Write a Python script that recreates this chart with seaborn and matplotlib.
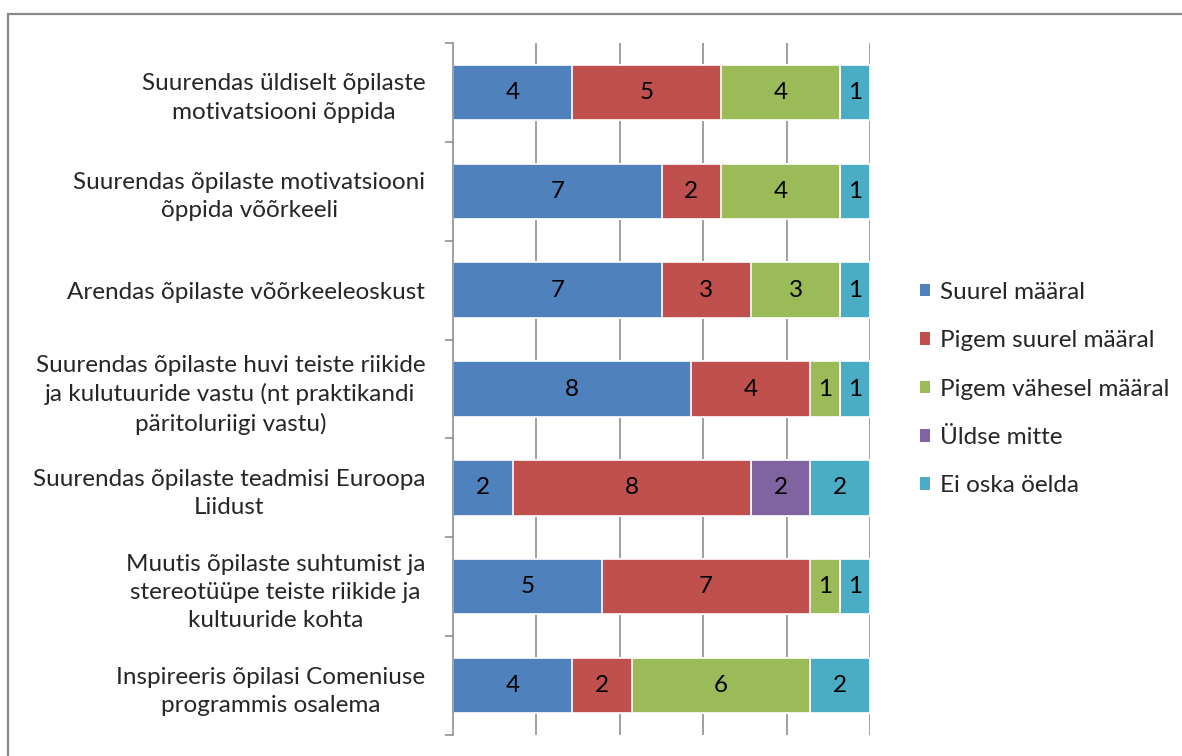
import matplotlib
matplotlib.use("Agg")
import matplotlib.pyplot as plt
import seaborn as sns
import pandas as pd
import numpy as np
from matplotlib.patches import Patch, Rectangle

categories = [
    "Suurendas üldiselt õpilaste\nmotivatsiooni õppida",
    "Suurendas õpilaste motivatsiooni\nõppida võõrkeeli",
    "Arendas õpilaste võõrkeeleoskust",
    "Suurendas õpilaste huvi teiste riikide\nja kulutuuride vastu (nt praktikandi\npäritoluriigi vastu)",
    "Suurendas õpilaste teadmisi Euroopa\nLiidust",
    "Muutis õpilaste suhtumist ja\nstereotüüpe teiste riikide ja\nkultuuride kohta",
    "Inspireeris õpilasi Comeniuse\nprogrammis osalema",
]
series_names = ["Suurel määral", "Pigem suurel määral", "Pigem vähesel määral",
                "Üldse mitte", "Ei oska öelda"]
suurel = [4, 7, 7, 8, 2, 5, 4]
pigem_suurel = [5, 2, 3, 4, 8, 7, 2]
pigem_vahesel = [4, 4, 3, 1, 0, 1, 6]
uldse_mitte = [0, 0, 0, 0, 2, 0, 0]
ei_oska = [1, 1, 1, 1, 2, 1, 2]
colors = ["#4F81BD", "#C0504D", "#9BBB59", "#8064A2", "#4BACC6"]

series = [suurel, pigem_suurel, pigem_vahesel, uldse_mitte, ei_oska]
vals = np.array(series, dtype=float)
cum = np.cumsum(vals, axis=0)

sns.set_theme(style="white")
FONT = ["Lato", "DejaVu Sans"]
plt.rcParams["font.family"] = FONT
FS = 17.5

fig = plt.figure(figsize=(11.82, 7.56), dpi=100)
ax = fig.add_axes([453 / 1182, 1 - 735 / 756, (870 - 453) / 1182, (735 - 43) / 756])

total = cum[-1].max()
ax.set_xlim(0, total)
gx = np.linspace(0, total, 6)
for x in gx[1:]:
    ax.axvline(x, color="#868686", lw=1.1, zorder=0)

for i in range(len(series) - 1, -1, -1):
    df = pd.DataFrame({"cat": categories, "val": cum[i]})
    sns.barplot(data=df, x="val", y="cat", order=categories, orient="y",
                color=colors[i], saturation=1, width=0.56, edgecolor="white",
                linewidth=1.2, ax=ax, zorder=2)

left = cum - vals
for i in range(len(series)):
    for j in range(len(categories)):
        if vals[i, j] > 0:
            ax.text(left[i, j] + vals[i, j] / 2, j, f"{int(vals[i, j])}",
                    ha="center", va="center", fontsize=FS, color="black", zorder=5)

ax.set_xlim(0, total)
ax.set_ylim(len(categories) - 0.5, -0.5)
ax.set_xlabel("")
ax.set_ylabel("")
ax.set_xticks([])
ax.set_yticks(range(len(categories)))
ax.set_yticklabels(categories, fontsize=FS, multialignment="center", linespacing=1.42)
ax.tick_params(axis="y", which="major", length=0, pad=20)
ax.set_yticks(np.arange(-0.5, len(categories), 1), minor=True)
ax.tick_params(axis="y", which="minor", length=6, color="#868686", width=1.1, left=True)
for s in ["top", "right", "bottom"]:
    ax.spines[s].set_visible(False)
ax.spines["left"].set_color("#868686")
ax.spines["left"].set_linewidth(1.1)

handles = [Patch(facecolor=c, edgecolor="none") for c in colors]
fig.legend(handles, series_names, loc="center left",
           bbox_to_anchor=(910 / 1182, 1 - 389 / 756), frameon=False,
           fontsize=FS, handlelength=0.42, handleheight=0.42, handletextpad=0.4,
           labelspacing=1.13, borderaxespad=0)

fig.patches.append(Rectangle((8 / 1182, -0.1), 1.2, 1 - 14 / 756 + 0.1,
                             transform=fig.transFigure, fill=False,
                             edgecolor="#878787", lw=1.6, clip_on=False))

fig.savefig("out.png", dpi=100)
